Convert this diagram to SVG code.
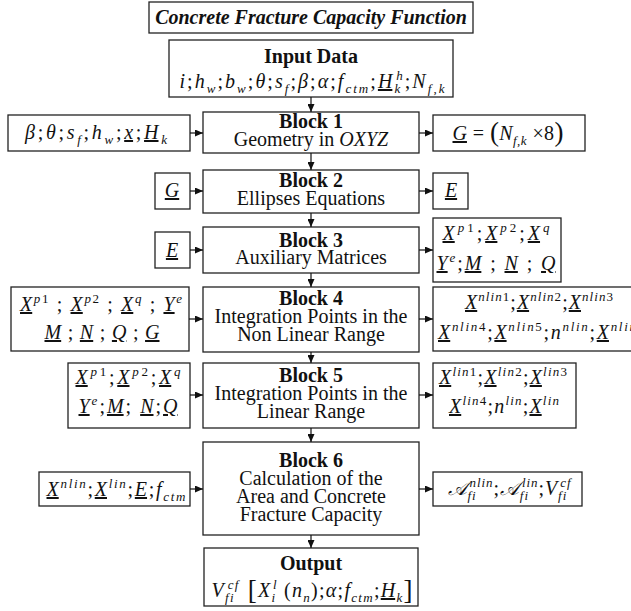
<svg xmlns="http://www.w3.org/2000/svg" width="631" height="611" viewBox="0 0 631 611">
<defs>
<marker id="ah" markerWidth="8" markerHeight="7" refX="8" refY="3.5" orient="auto" markerUnits="userSpaceOnUse"><path d="M0,0 L8,3.5 L0,7 z" fill="#111"/></marker>
<style>
rect{fill:#fff;stroke:#222;stroke-width:1.3}
text{font-family:"Liberation Serif","Times New Roman",serif;font-size:20px;fill:#111;text-anchor:middle}
.b{font-weight:bold}
.ttl{font-weight:bold;font-style:italic;font-size:20px}
.m{font-style:italic}
.r{font-style:normal}
.u{text-decoration:underline}
.sb{font-size:13px;baseline-shift:-5px}
.sp{font-size:13px;baseline-shift:8px}
.big{font-size:27px;font-style:normal}
#connectors line{stroke:#111;stroke-width:1.2;marker-end:url(#ah)}
</style>
</defs>
<g id="title"><rect x="149" y="2" width="324" height="31"/><text class="ttl" x="311" y="24">Concrete Fracture Capacity Function</text></g>
<g id="input"><rect x="169" y="40" width="284" height="57"/><text class="b" x="311" y="63">Input Data</text>
<text class="m" x="312" y="88" textLength="265" lengthAdjust="spacing">i<tspan class="r">;</tspan>h<tspan class="sb">w</tspan><tspan class="r">;</tspan>b<tspan class="sb">w</tspan><tspan class="r">;</tspan>θ<tspan class="r">;</tspan>s<tspan class="sb">f</tspan><tspan class="r">;</tspan>β<tspan class="r">;</tspan>α<tspan class="r">;</tspan>f<tspan class="sb">ctm</tspan><tspan class="r">;</tspan><tspan class="u">H</tspan><tspan class="sb">k</tspan><tspan class="sp" dx="-6">h</tspan><tspan class="r">;</tspan>N<tspan class="sb">f<tspan class="r">,</tspan>k</tspan></text></g>
<g id="block1"><rect x="203" y="112" width="216" height="41"/><text class="b" x="311" y="128">Block 1</text><text x="311" y="146">Geometry in <tspan class="m">OXYZ</tspan></text></g>
<g id="in1"><rect x="8" y="115" width="182" height="36"/><text class="m" x="96" y="139" textLength="142" lengthAdjust="spacing">β<tspan class="r">;</tspan>θ<tspan class="r">;</tspan>s<tspan class="sb">f</tspan><tspan class="r">;</tspan>h<tspan class="sb">w</tspan><tspan class="r">;</tspan><tspan class="u">x</tspan><tspan class="r">;</tspan><tspan class="u">H</tspan><tspan class="sb">k</tspan></text></g>
<g id="out1"><rect x="433" y="115" width="152" height="36"/><text class="m" x="508" y="140" textLength="111" lengthAdjust="spacing"><tspan class="u">G</tspan><tspan class="r"> = </tspan><tspan class="big" baseline-shift="-1">(</tspan>N<tspan class="sb">f<tspan class="r">,</tspan>k</tspan><tspan class="r"> ×8</tspan><tspan class="big" baseline-shift="-1">)</tspan></text></g>
<g id="block2"><rect x="203" y="170" width="216" height="43"/><text class="b" x="311" y="187">Block 2</text><text x="311" y="205">Ellipses Equations</text></g>
<g id="in2"><rect x="155" y="173" width="35" height="36"/><text class="m" x="172" y="197"><tspan class="u">G</tspan></text></g>
<g id="out2"><rect x="433" y="173" width="35" height="36"/><text class="m" x="451" y="197"><tspan class="u">E</tspan></text></g>
<g id="block3"><rect x="203" y="227" width="216" height="46"/><text class="b" x="311" y="247">Block 3</text><text x="311" y="264">Auxiliary Matrices</text></g>
<g id="in3"><rect x="155" y="232" width="35" height="36"/><text class="m" x="172" y="257"><tspan class="u">E</tspan></text></g>
<g id="out3"><rect x="433" y="218" width="128" height="64"/>
<text class="m" x="496" y="240" textLength="107" lengthAdjust="spacing"><tspan class="u">X</tspan><tspan class="sp">p<tspan class="r">1</tspan></tspan><tspan class="r">;</tspan><tspan class="u">X</tspan><tspan class="sp">p<tspan class="r">2</tspan></tspan><tspan class="r">;</tspan><tspan class="u">X</tspan><tspan class="sp">q</tspan></text>
<text class="m" x="496" y="270" textLength="119" lengthAdjust="spacing"><tspan class="u">Y</tspan><tspan class="sp">e</tspan><tspan class="r">;</tspan><tspan class="u">M</tspan><tspan class="r"> ; </tspan><tspan class="u">N</tspan><tspan class="r"> ; </tspan><tspan class="u">Q</tspan></text></g>
<g id="block4"><rect x="203" y="287" width="216" height="65"/><text class="b" x="311" y="305">Block 4</text><text x="311" y="323">Integration Points in the</text><text x="311" y="341">Non Linear Range</text></g>
<g id="in4"><rect x="11" y="287" width="178" height="64"/>
<text class="m" x="101" y="311" textLength="162" lengthAdjust="spacing"><tspan class="u">X</tspan><tspan class="sp">p<tspan class="r">1</tspan></tspan><tspan class="r"> ; </tspan><tspan class="u">X</tspan><tspan class="sp">p<tspan class="r">2</tspan></tspan><tspan class="r"> ; </tspan><tspan class="u">X</tspan><tspan class="sp">q</tspan><tspan class="r"> ; </tspan><tspan class="u">Y</tspan><tspan class="sp">e</tspan></text>
<text class="m" x="102" y="339" textLength="115" lengthAdjust="spacing"><tspan class="u">M</tspan><tspan class="r"> ; </tspan><tspan class="u">N</tspan><tspan class="r"> ; </tspan><tspan class="u">Q</tspan><tspan class="r"> ; </tspan><tspan class="u">G</tspan></text></g>
<g id="out4"><rect x="433" y="287" width="220" height="64"/>
<text class="m" x="539" y="309" textLength="148" lengthAdjust="spacing"><tspan class="u">X</tspan><tspan class="sp">nlin<tspan class="r">1</tspan></tspan><tspan class="r">;</tspan><tspan class="u">X</tspan><tspan class="sp">nlin<tspan class="r">2</tspan></tspan><tspan class="r">;</tspan><tspan class="u">X</tspan><tspan class="sp">nlin<tspan class="r">3</tspan></tspan></text>
<text class="m" x="537" y="339" textLength="198" lengthAdjust="spacing"><tspan class="u">X</tspan><tspan class="sp">nlin<tspan class="r">4</tspan></tspan><tspan class="r">;</tspan><tspan class="u">X</tspan><tspan class="sp">nlin<tspan class="r">5</tspan></tspan><tspan class="r">;</tspan>n<tspan class="sp">nlin</tspan><tspan class="r">;</tspan><tspan class="u">X</tspan><tspan class="sp">nlin</tspan></text></g>
<g id="block5"><rect x="203" y="363" width="216" height="65"/><text class="b" x="311" y="382">Block 5</text><text x="311" y="400">Integration Points in the</text><text x="311" y="418">Linear Range</text></g>
<g id="in5"><rect x="68" y="363" width="122" height="65"/>
<text class="m" x="128" y="384" textLength="105" lengthAdjust="spacing"><tspan class="u">X</tspan><tspan class="sp">p<tspan class="r">1</tspan></tspan><tspan class="r">;</tspan><tspan class="u">X</tspan><tspan class="sp">p<tspan class="r">2</tspan></tspan><tspan class="r">;</tspan><tspan class="u">X</tspan><tspan class="sp">q</tspan></text>
<text class="m" x="128" y="413" textLength="99" lengthAdjust="spacing"><tspan class="u">Y</tspan><tspan class="sp">e</tspan><tspan class="r">;</tspan><tspan class="u">M</tspan><tspan class="r">; </tspan><tspan class="u">N</tspan><tspan class="r">;</tspan><tspan class="u">Q</tspan></text></g>
<g id="out5"><rect x="433" y="363" width="143" height="65"/>
<text class="m" x="503" y="384" textLength="128" lengthAdjust="spacing"><tspan class="u">X</tspan><tspan class="sp">lin<tspan class="r">1</tspan></tspan><tspan class="r">;</tspan><tspan class="u">X</tspan><tspan class="sp">lin<tspan class="r">2</tspan></tspan><tspan class="r">;</tspan><tspan class="u">X</tspan><tspan class="sp">lin<tspan class="r">3</tspan></tspan></text>
<text class="m" x="504" y="413" textLength="110" lengthAdjust="spacing"><tspan class="u">X</tspan><tspan class="sp">lin<tspan class="r">4</tspan></tspan><tspan class="r">;</tspan>n<tspan class="sp">lin</tspan><tspan class="r">;</tspan><tspan class="u">X</tspan><tspan class="sp">lin</tspan></text></g>
<g id="block6"><rect x="203" y="442" width="216" height="93"/><text class="b" x="311" y="467">Block 6</text><text x="311" y="485">Calculation of the</text><text x="311" y="503">Area and Concrete</text><text x="311" y="521">Fracture Capacity</text></g>
<g id="in6"><rect x="39" y="472" width="151" height="34"/>
<text class="m" x="116" y="496" textLength="139" lengthAdjust="spacing"><tspan class="u">X</tspan><tspan class="sp">nlin</tspan><tspan class="r">;</tspan><tspan class="u">X</tspan><tspan class="sp">lin</tspan><tspan class="r">;</tspan><tspan class="u">E</tspan><tspan class="r">;</tspan>f<tspan class="sb">ctm</tspan></text></g>
<g id="out6"><rect x="433" y="472" width="149" height="34"/>
<text class="m" x="509" y="495" textLength="123" lengthAdjust="spacing">𝒜<tspan class="sb">fi</tspan><tspan class="sp" dx="-7">nlin</tspan><tspan class="r">;</tspan>𝒜<tspan class="sb">fi</tspan><tspan class="sp" dx="-7">lin</tspan><tspan class="r">;</tspan>V<tspan class="sb">fi</tspan><tspan class="sp" dx="-7">cf</tspan></text></g>
<g id="output"><rect x="204" y="548" width="214" height="58"/><text class="b" x="311" y="570">Output</text>
<text class="m" x="312" y="597" textLength="201" lengthAdjust="spacing">V<tspan class="sb">fi</tspan><tspan class="sp" dx="-7">cf</tspan><tspan class="big" baseline-shift="-2"> [</tspan>X<tspan class="sb">i</tspan><tspan class="sp" dx="-3.5">l</tspan><tspan class="r"> (</tspan>n<tspan class="sb">n</tspan><tspan class="r">);</tspan>α<tspan class="r">;</tspan>f<tspan class="sb">ctm</tspan><tspan class="r">;</tspan><tspan class="u">H</tspan><tspan class="sb">k</tspan><tspan class="big" baseline-shift="-2">]</tspan></text></g>
<g id="connectors">
<line x1="311" y1="97" x2="311" y2="112"/>
<line x1="311" y1="153" x2="311" y2="170"/>
<line x1="311" y1="213" x2="311" y2="227"/>
<line x1="311" y1="273" x2="311" y2="287"/>
<line x1="311" y1="352" x2="311" y2="363"/>
<line x1="311" y1="428" x2="311" y2="442"/>
<line x1="311" y1="535" x2="311" y2="548"/>
<line x1="190" y1="133" x2="203" y2="133"/>
<line x1="419" y1="133" x2="433" y2="133"/>
<line x1="190" y1="191" x2="203" y2="191"/>
<line x1="419" y1="191" x2="433" y2="191"/>
<line x1="190" y1="250" x2="203" y2="250"/>
<line x1="419" y1="250" x2="433" y2="250"/>
<line x1="189" y1="319" x2="203" y2="319"/>
<line x1="419" y1="319" x2="433" y2="319"/>
<line x1="190" y1="395" x2="203" y2="395"/>
<line x1="419" y1="395" x2="433" y2="395"/>
<line x1="190" y1="489" x2="203" y2="489"/>
<line x1="419" y1="489" x2="433" y2="489"/>
</g>
</svg>
